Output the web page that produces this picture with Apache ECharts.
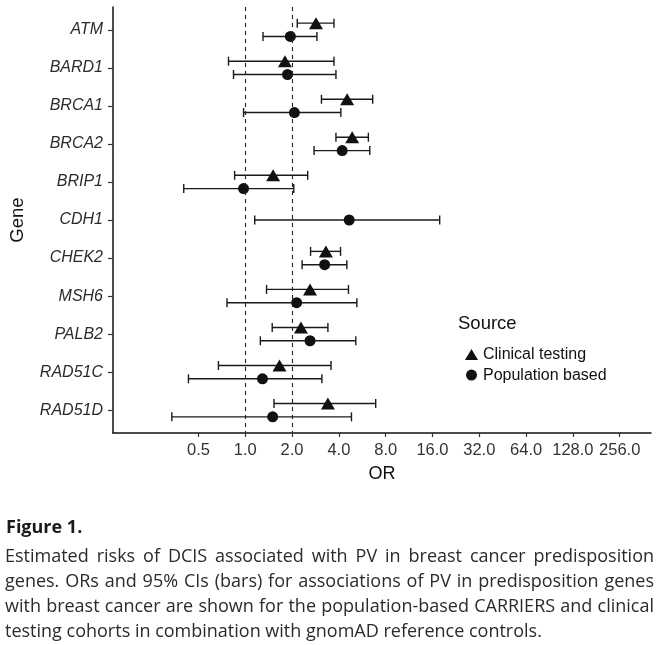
<!DOCTYPE html>
<html><head><meta charset="utf-8">
<script src="https://cdn.jsdelivr.net/npm/echarts@6/dist/echarts.min.js"></script>
<style>html,body{margin:0;padding:0;background:#fff}#c{width:661px;height:645px}</style>
</head><body><div id="c"></div>
<script>
const genes = ['ATM','BARD1','BRCA1','BRCA2','BRIP1','CDH1','CHEK2','MSH6','PALB2','RAD51C','RAD51D'];
const clinicalOR   = [2.85, 1.80, 4.52, 4.87, 1.51, null, 3.30, 2.61, 2.28, 1.66, 3.40];
const clinicalLow  = [2.16, 0.78, 3.09, 3.83, 0.854, null, 2.63, 1.37, 1.49, 0.672, 1.53];
const clinicalHigh = [3.72, 3.72, 6.60, 6.19, 2.52, null, 4.10, 4.61, 3.40, 3.56, 6.90];
const populationOR   = [1.95, 1.87, 2.07, 4.20, 0.975, 4.66, 3.24, 2.14, 2.61, 1.29, 1.50];
const populationLow  = [1.30, 0.84, 0.975, 2.77, 0.402, 1.15, 2.32, 0.763, 1.25, 0.431, 0.337];
const populationHigh = [2.89, 3.83, 4.12, 6.32, 2.05, 17.8, 4.50, 5.22, 5.14, 3.11, 4.82];
const xTicks = [0.5, 1, 2, 4, 8, 16, 32, 64, 128, 256];
const refLines = [1, 2];
const seriesNames = ['Clinical testing', 'Population based'];
const legendTitle = 'Source';
const xTitle = 'OR';
const yTitle = 'Gene';
const captionTitle = 'Figure 1.';
const captionLines = [
  'Estimated risks of DCIS associated with PV in breast cancer predisposition',
  'genes. ORs and 95% CIs (bars) for associations of PV in predisposition genes',
  'with breast cancer are shown for the population-based CARRIERS and clinical',
  'testing cohorts in combination with gnomAD reference controls.'
];

const dodge = 0.175;
function rows(orArr, lowArr, highArr, otherArr, sign) {
  const pts = [], bars = [];
  genes.forEach((g, i) => {
    if (orArr[i] == null) return;
    const y = i + 1 + (otherArr[i] != null ? sign * dodge : 0);
    pts.push([orArr[i], y]);
    bars.push([lowArr[i], highArr[i], y]);
  });
  return {pts, bars};
}
const clin = rows(clinicalOR, clinicalLow, clinicalHigh, populationOR, -1);
const pop = rows(populationOR, populationLow, populationHigh, clinicalOR, 1);

function renderErr(params, api) {
  const y = api.value(2);
  const p1 = api.coord([api.value(0), y]);
  const p2 = api.coord([api.value(1), y]);
  const cap = 4.5;
  const style = {stroke: '#1a1a1a', lineWidth: 1.4};
  return {type: 'group', children: [
    {type: 'line', shape: {x1: p1[0], y1: p1[1], x2: p2[0], y2: p2[1]}, style},
    {type: 'line', shape: {x1: p1[0], y1: p1[1] - cap, x2: p1[0], y2: p1[1] + cap}, style},
    {type: 'line', shape: {x1: p2[0], y1: p2[1] - cap, x2: p2[0], y2: p2[1] + cap}, style}
  ]};
}

// caption layout (justified lines)
const capFamily = '"Open Sans", sans-serif';
const capSize = 18;
const capLeft = 5, capRight = 654;
const capY = [557, 582, 607, 632];
const ctx = document.createElement('canvas').getContext('2d');
ctx.font = capSize + 'px ' + capFamily;
const captionGraphics = [];
captionLines.forEach((line, li) => {
  const last = li === captionLines.length - 1;
  if (last) {
    captionGraphics.push({type: 'text', x: capLeft, y: capY[li], style: {text: line, fontFamily: capFamily, fontSize: capSize, fill: '#2b2b2b', verticalAlign: 'middle'}});
    return;
  }
  const words = line.split(' ');
  const widths = words.map(w => ctx.measureText(w).width);
  const total = widths.reduce((a, b) => a + b, 0);
  const gap = (capRight - capLeft - total) / (words.length - 1);
  let x = capLeft;
  words.forEach((w, wi) => {
    captionGraphics.push({type: 'text', x: x, y: capY[li], style: {text: w, fontFamily: capFamily, fontSize: capSize, fill: '#2b2b2b', verticalAlign: 'middle'}});
    x += widths[wi] + gap;
  });
});

const chart = echarts.init(document.getElementById('c'), null, {renderer: 'canvas'});
const font = '"Liberation Sans", Arial, sans-serif';
chart.setOption({
  backgroundColor: '#fff',
  animation: false,
  grid: {left: 113, top: 7, width: 538, height: 426},
  xAxis: {
    type: 'log', logBase: 2, min: 0.141, max: 407,
    name: xTitle, nameLocation: 'middle', nameGap: 32,
    nameTextStyle: {fontFamily: font, fontSize: 18, color: '#111'},
    axisLine: {lineStyle: {color: '#111', width: 1.5}},
    axisTick: {customValues: xTicks, length: 4, lineStyle: {color: '#333', width: 1.2}},
    axisLabel: {customValues: xTicks, formatter: v => Number(v).toFixed(1), fontFamily: font, fontSize: 16.5, color: '#333', margin: 9},
    splitLine: {show: false}, minorTick: {show: false}
  },
  yAxis: {
    type: 'value', inverse: true, min: 0.4, max: 11.6,
    name: yTitle, nameLocation: 'middle', nameGap: 86, nameRotate: 90,
    nameTextStyle: {fontFamily: font, fontSize: 18.5, color: '#111'},
    axisLine: {show: true, lineStyle: {color: '#111', width: 1.5}},
    axisTick: {show: true, customValues: genes.map((g, i) => i + 1), length: 5, lineStyle: {color: '#333', width: 1.2}},
    axisLabel: {customValues: genes.map((g, i) => i + 1), formatter: v => genes[Math.round(v) - 1], fontFamily: font, fontStyle: 'italic', fontSize: 16, color: '#2b2b2b', margin: 10},
    splitLine: {show: false}
  },
  legend: {
    orient: 'vertical', left: 460, top: 341.5, itemWidth: 13, itemHeight: 11, itemGap: 4.6,
    selectedMode: false,
    textStyle: {fontFamily: font, fontSize: 16, color: '#111'},
    data: [{name: seriesNames[0], icon: 'triangle'}, {name: seriesNames[1], icon: 'circle'}]
  },
  graphic: [
    {type: 'text', x: 458, y: 324, style: {text: legendTitle, fontFamily: font, fontSize: 18.5, fill: '#111', verticalAlign: 'middle'}},
    {type: 'text', x: 6, y: 528, style: {text: captionTitle, fontFamily: capFamily, fontWeight: 'bold', fontSize: 18, fill: '#1a1a1a', verticalAlign: 'middle'}}
  ].concat(captionGraphics),
  series: [
    {type: 'custom', name: 'clinErr', renderItem: renderErr, data: clin.bars, encode: {x: [0, 1], y: 2}, z: 2,
     markLine: {silent: true, symbol: 'none', label: {show: false}, lineStyle: {type: [4, 4], color: '#222', width: 1.1}, data: refLines.map(v => ({xAxis: v}))}},
    {type: 'custom', name: 'popErr', renderItem: renderErr, data: pop.bars, encode: {x: [0, 1], y: 2}, z: 2},
    {type: 'scatter', name: seriesNames[0], data: clin.pts, symbol: 'triangle', symbolSize: [14, 12], itemStyle: {color: '#111', opacity: 1}, z: 3},
    {type: 'scatter', name: seriesNames[1], data: pop.pts, symbol: 'circle', symbolSize: 11, itemStyle: {color: '#111', opacity: 1}, z: 3}
  ]
});
</script></body></html>
